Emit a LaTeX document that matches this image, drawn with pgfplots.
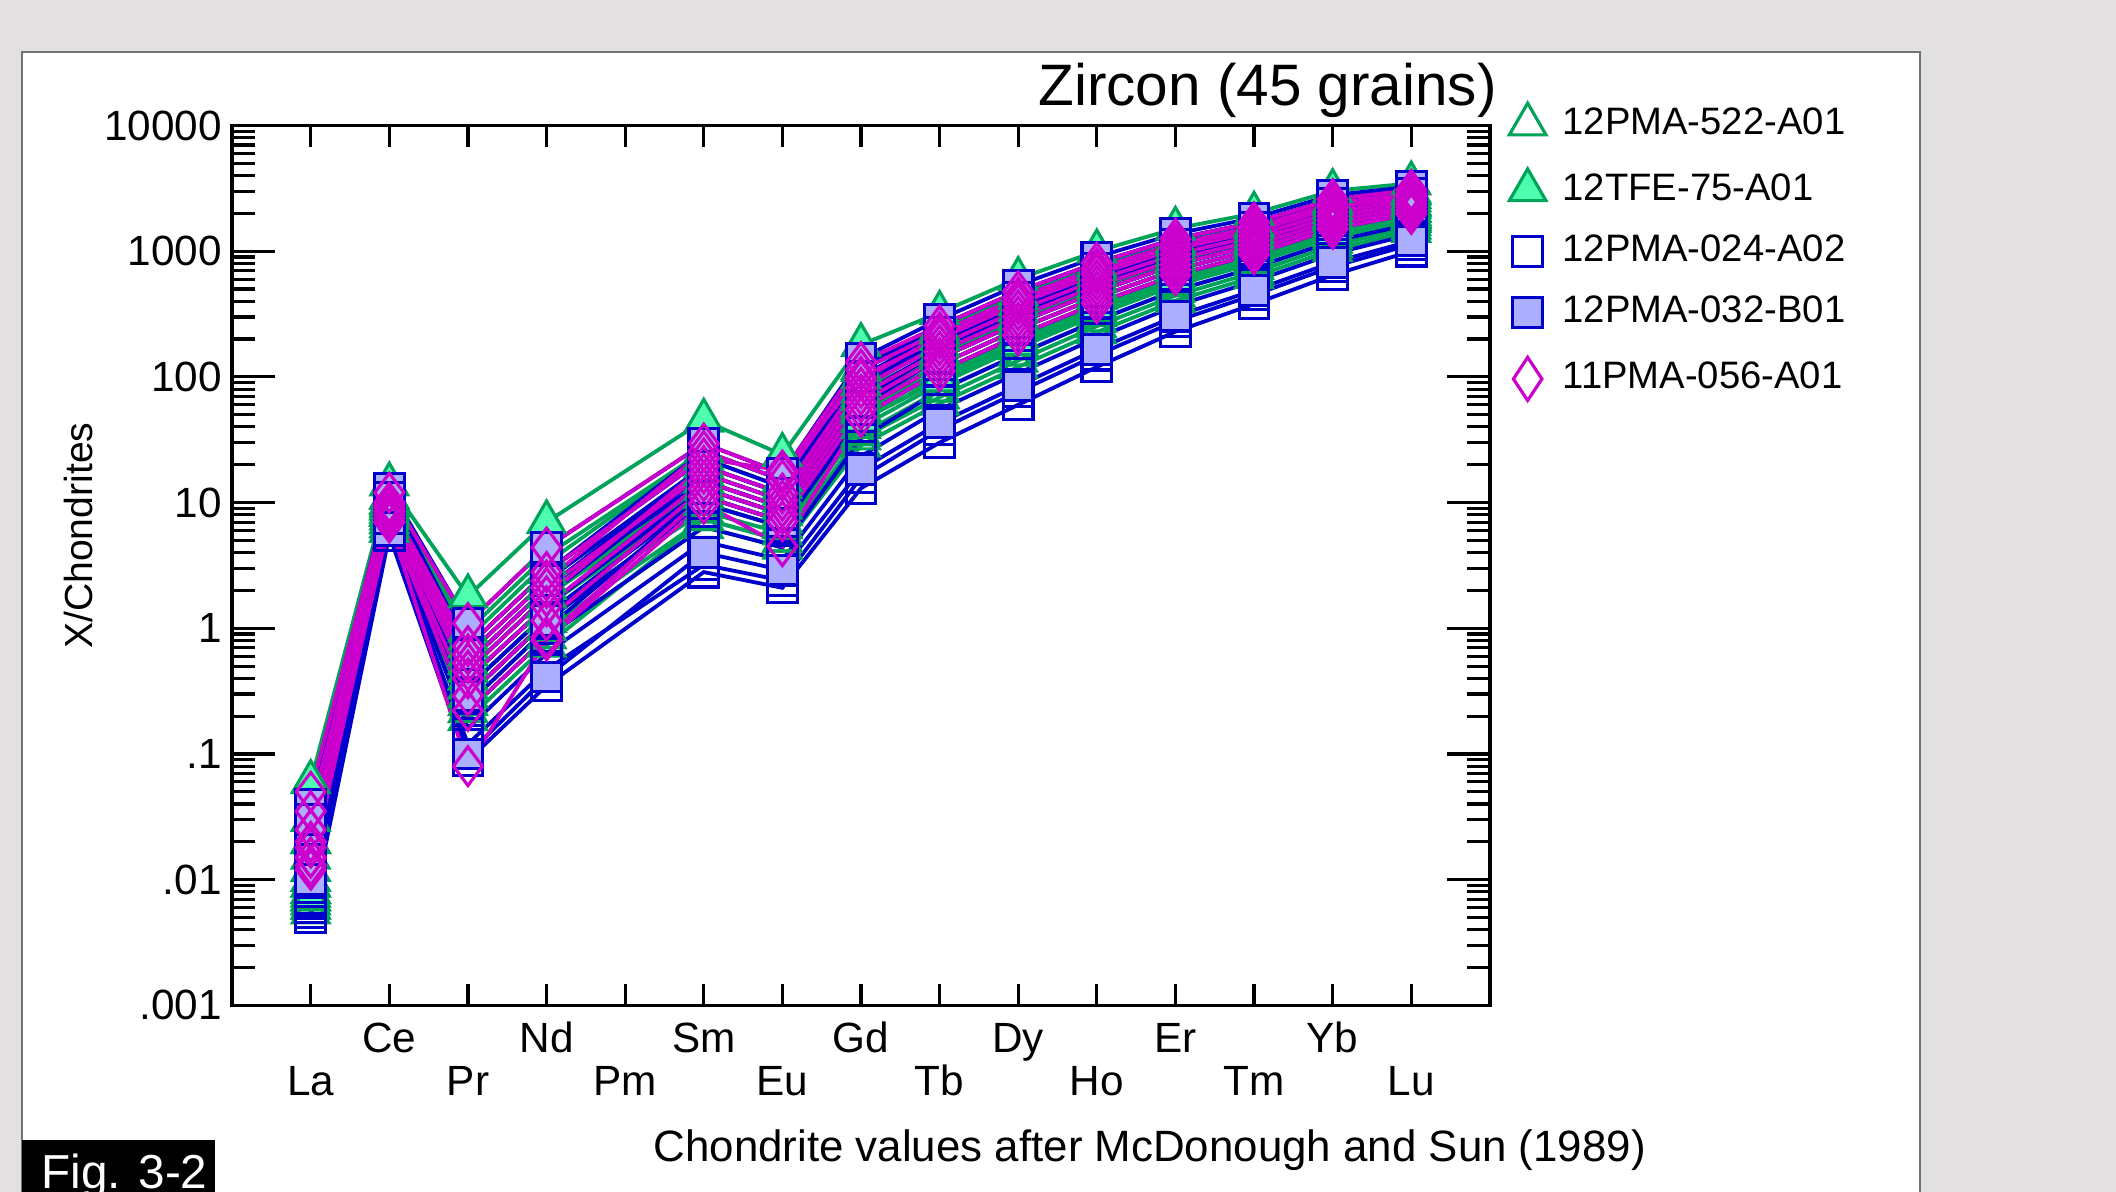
\documentclass[border=0pt]{standalone}
\usepackage{pgfplots}
\pgfplotsset{compat=1.18}
\usepackage{pgfplotstable}
\usepackage{fontspec}
\setmainfont{Liberation Sans}
\definecolor{bggray}{RGB}{227,224,225}
\definecolor{pgreen}{RGB}{0,163,90}
\definecolor{pmint}{RGB}{77,255,175}
\definecolor{pblue}{RGB}{0,0,204}
\definecolor{plblue}{RGB}{172,175,255}
\definecolor{pmag}{RGB}{204,0,204}

% rows: La Ce Pr Nd (Pm none) Sm Eu Gd Tb Dy Ho Er Tm Yb Lu
\pgfplotstableread{
x  g1    g2    g3    g4    g5     g6    g7     g8    g9
0  0.006 0.007 0.006 0.008 0.0065 0.009 0.0055 0.012 0.0075
1  6.5   7     6     8     7.5    9     6      10    8
2  0.25  0.34  0.22  0.46  0.29   0.40  0.19   0.53  0.34
3  0.99  1.3   0.85  1.8   1.15   1.5   0.73   2.1   1.3
5  7.4   8.5   6.4   12.9  9.8    11.2  7.4    14.8  11.2
6  5.0   5.7   4.4   8.1   6.4    7.1   5.0    9.2   7.1
7  32.5  40    28.5  55    45     55    35     67    52
8  69    88    61.5  111   99     125   78     141   104
9  135   170   120   214   191    240   151    269   200
10 253   312   227   386   347    429   281    477   362
11 444   536   404   647   589    711   488    781   612
12 679   802   625   946   871    1028  738    1117  900
13 1108  1293  1026  1508  1396   1629  1197   1760  1440
14 1545  1750  1452  1982  1862   2109  1644   2244  1910
}\tabA

\pgfplotstableread{
x  g1   g2   g3   g4    g5   g6    g7    g8   g9
0  0.06 0.03 0.02 0.015 0.01 0.008 0.007 0.02 0.009
1  14   11   10   9     8    9.5   7     11   8.5
2  1.8  0.96 0.72 0.53  0.40 0.62  0.29  0.83 0.46
3  7    3.8  2.8  2.1   1.5  2.4   1.15  3.3  1.8
5  45   25.7 22.4 17    12.9 19.5  9.8   25.7 14.8
6  24   15.1 13.3 10.4  8.1  11.8  6.4   15.1 9.2
7  180  114  100  77    59   88    45    118  72
8  324  226  201  159   125  179   94    243  152
9  603  427  380  302   240  339   182   457  289
10 1000 728  655  530   429  589   333   775  508
11 1514 1140 1038 859   711  944   566   1205 828
12 1995 1556 1432 1213  1028 1318  840   1635 1174
13 3020 2396 2218 1901  1629 2053  1350  2510 1843
14 3467 2877 2704 2388  2109 2541  1815  2985 2330
}\tabB

\pgfplotstableread{
x  g1    g2     g3    g4    g5    g6    g7    g8     g9
0  0.005 0.0055 0.006 0.007 0.008 0.01  0.012 0.0065 0.02
1  5.5   6      6.5   7     7.5   8     9     7      10
2  0.089 0.12   0.16  0.22  0.29  0.40  0.53  0.25   0.72
3  0.35  0.47   0.63  0.85  1.15  1.5   2.1   0.99   2.8
5  2.8   3.2    4.9   6.4   9.8   12.9  14.8  11.2   22.4
6  2.1   2.4    3.5   4.4   6.4   8.1   9.2   7.1    13.3
7  13    15.8   23.4  32.5  48    67    82    59     114
8  30    38     55    78    111   159   201   141    255
9  60    76     107   151   214   302   380   269    479
10 120   149    204   281   386   530   655   477    809
11 229   277    368   488   647   859   1038  781    1253
12 380   449    576   738   946   1213  1432  1117   1690
13 646   753    950   1197  1508  1901  2218  1760   2588
14 1000  1132   1364  1644  1982  2388  2704  2244   3062
}\tabC

\pgfplotstableread{
x  g1   g2    g3   g4    g5   g6    g7    g8   g9
0  0.01 0.012 0.02 0.035 0.04 0.015 0.025 0.01 0.03
1  6    8     9    12    13   8.5   10    7.5  11
2  0.10 0.34  0.46 0.72  1.1  0.40  0.53  0.29 0.62
3  0.41 1.3   1.8  2.8   4.4  1.5   2.1   1.15 2.4
5  4.0  11.2  17   25.7  29.5 14.8  19.5  12.9 19.5
6  2.9  7.1   10.4 15.1  17.1 9.2   11.8  8.1  11.8
7  18.4 55    82   122   140  72    94    63   100
8  43   125   179  255   287  167   192   141  226
9  85   240   339  479   538  316   363   269  427
10 166  429   589  809   900  553   628   477  728
11 304  711   944  1253  1377 893   1000  781  1140
12 488  1028  1318 1690  1836 1255  1385  1117 1556
13 814  1629  2053 2588  2796 1960  2150  1760 2396
14 1205 2109  2541 3062  3258 2450  2635  2244 2877
}\tabD

\pgfplotstableread{
x  g1   g2    g3   g4    g5    g6    g7    g8    g9
0  0.05 0.035 0.02 0.015 0.012 0.013 0.018 0.015 0.025
1  12   10    9    8     7.5   7     8.5   7     9.5
2  1.1  0.72  0.53 0.40  0.29  0.22  0.46  0.08  0.62
3  4.4  2.8   2.1  1.5   1.15  0.85  1.8   0.8   2.4
5  29.5 22.4  17   14.8  12.9  11.2  19.5  9.8   25.7
6  17.1 18    10.4 9.2   8.1   7.1   11.8  4.5   15.1
7  131  100   82   72    63    55    94    48    114
8  255  201   179  159   141   125   211   111   226
9  479  380   339  302   269   240   398   214   427
10 809  655   589  530   477   429   683   386   728
11 1253 1038  944  859   781   711   1078  647   1140
12 1690 1432  1318 1213  1117  1028  1480  946   1556
13 2588 2218  2053 1901  1760  1629  2290  1508  2396
14 3062 2704  2541 2388  2244  2109  2775  1982  2877
}\tabE

\begin{document}
\begin{tikzpicture}
\useasboundingbox (0,0) rectangle (470.4pt,-264.9pt);
\fill[bggray] (0,0) rectangle (470.4pt,-264.9pt);
\fill[white] (4.95pt,-11.5pt) rectangle (426.9pt,-264.9pt);
\draw[black!55, line width=0.45pt] (4.95pt,-264.9pt) -- (4.95pt,-11.5pt) -- (426.9pt,-11.5pt) -- (426.9pt,-264.9pt);

\begin{axis}[
  at={(51.6pt,-223.5pt)}, anchor=south west,
  scale only axis, width=279.6pt, height=195.6pt,
  xmin=-1, xmax=15, ymode=log, ymin=0.001, ymax=10000,
  axis line style={line width=0.75pt},
  every tick/.style={black, line width=0.7pt},
  major tick length=9.5pt, minor tick length=5pt,
  ytick={0.001,0.01,0.1,1,10,100,1000,10000},
  yticklabels={.001,.01,.1,1,10,100,1000,10000},
  minor ytick={0.002,0.003,0.004,0.005,0.006,0.007,0.008,0.009,
               0.02,0.03,0.04,0.05,0.06,0.07,0.08,0.09,
               0.2,0.3,0.4,0.5,0.6,0.7,0.8,0.9,
               2,3,4,5,6,7,8,9,20,30,40,50,60,70,80,90,
               200,300,400,500,600,700,800,900,
               2000,3000,4000,5000,6000,7000,8000,9000},
  xtick={1,3,5,7,9,11,13},
  xticklabels={Ce,Nd,Sm,Gd,Dy,Er,Yb},
  xtick style={/pgfplots/major tick length=4.7pt},
  extra x ticks={0,2,4,6,8,10,12,14},
  extra x tick labels={La,Pr,Pm,Eu,Tb,Ho,Tm,Lu},
  extra x tick style={/pgfplots/major tick length=4.7pt, xticklabel style={yshift=-9.6pt}},
  xticklabel style={font=\fontsize{9.4}{11}\selectfont, anchor=base, inner sep=0pt, yshift=-10.5pt},
  yticklabel style={font=\fontsize{9.4}{11}\selectfont, inner sep=0pt, xshift=-2.1pt},
  legend style={at={(1.0155,1.0254)}, anchor=north west, draw=none, fill=none,
    inner sep=0pt, outer sep=0pt, row sep=6.2pt, column sep=3.7pt,
    font=\fontsize{8.5}{10}\selectfont, nodes={inner sep=0pt}},
  legend cell align=left,
]
\addlegendimage{legend image code/.code={\draw[pgreen, line width=0.7pt] plot[mark=triangle, mark size=4.7pt] coordinates {(0pt,0pt)};}}
\addlegendentry{12PMA-522-A01}
\addlegendimage{legend image code/.code={\draw[pgreen, line width=0.7pt] plot[mark=triangle*, mark size=4.7pt, mark options={fill=pmint}] coordinates {(0pt,0pt)};}}
\addlegendentry{12TFE-75-A01}
\addlegendimage{legend image code/.code={\draw[pblue, line width=0.7pt] plot[mark=square, mark size=3.3pt] coordinates {(0pt,0pt)};}}
\addlegendentry{12PMA-024-A02}
\addlegendimage{legend image code/.code={\draw[pblue, line width=0.7pt] plot[mark=square*, mark size=3.3pt, mark options={fill=plblue}] coordinates {(0pt,0pt)};}}
\addlegendentry{12PMA-032-B01}
\addlegendimage{legend image code/.code={\draw[pmag, line width=0.7pt] plot[mark=diamond, mark size=4.8pt, mark options={xscale=0.88}] coordinates {(0pt,0pt)};}}
\addlegendentry{11PMA-056-A01}

\pgfplotsinvokeforeach{1,2,3,4,5,6,7,8,9}{
  \addplot[forget plot, color=pgreen, line width=0.85pt, mark=triangle, mark size=4.7pt, mark options={line width=0.7pt}] table[x=x, y=g#1] {\tabA};
}
\pgfplotsinvokeforeach{1,2,3,4,5,6,7,8,9}{
  \addplot[forget plot, color=pgreen, line width=0.85pt, mark=triangle*, mark size=4.7pt, mark options={fill=pmint, line width=0.7pt}] table[x=x, y=g#1] {\tabB};
}
\pgfplotsinvokeforeach{1,2,3,4,5,6,7,8,9}{
  \addplot[forget plot, color=pblue, line width=0.85pt, mark=square, mark size=3.3pt, mark options={line width=0.7pt}] table[x=x, y=g#1] {\tabC};
}
\pgfplotsinvokeforeach{1,2,3,4,5,6,7,8,9}{
  \addplot[forget plot, color=pblue, line width=0.85pt, mark=square*, mark size=3.3pt, mark options={fill=plblue, line width=0.7pt}] table[x=x, y=g#1] {\tabD};
}
\pgfplotsinvokeforeach{1,2,3,4,5,6,7,8,9}{
  \addplot[forget plot, color=pmag, line width=0.85pt, mark=diamond, mark size=4.3pt, mark options={line width=0.7pt}] table[x=x, y=g#1] {\tabE};
}
\end{axis}

\node[anchor=base east, inner sep=0pt, font=\fontsize{13}{15}\selectfont] at (332.9pt,-23.4pt) {Zircon (45 grains)};
\node[anchor=base, inner sep=0pt, font=\fontsize{9.75}{12}\selectfont] at (255.6pt,-258.3pt) {Chondrite values after McDonough and Sun (1989)};
\node[rotate=90, anchor=center, inner sep=0pt, font=\fontsize{8.7}{10}\selectfont] at (17.4pt,-119.1pt) {X/Chondrites};
\fill[black] (4.95pt,-253.5pt) rectangle (47.7pt,-264.9pt);
\node[anchor=base west, inner sep=0pt, text=white, font=\fontsize{10.6}{12}\selectfont] at (9pt,-264.2pt) {Fig. 3-2};
\end{tikzpicture}
\end{document}
